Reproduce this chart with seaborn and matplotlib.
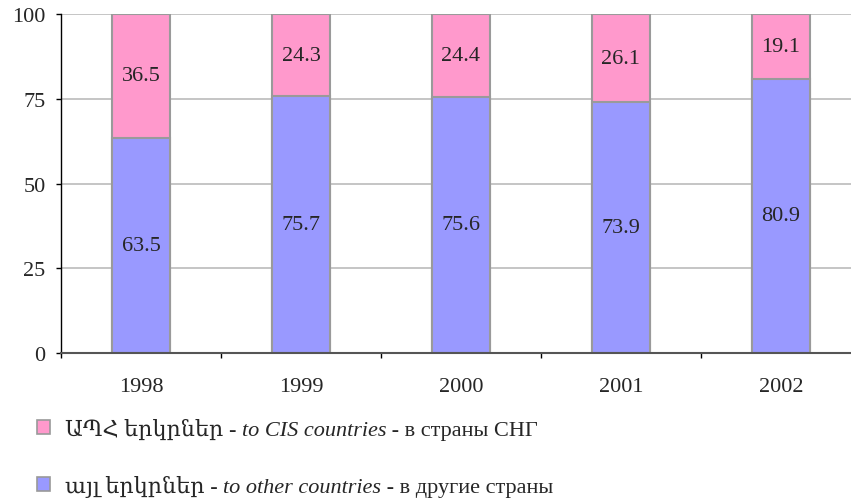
import matplotlib
matplotlib.use("Agg")
import matplotlib.pyplot as plt
import seaborn as sns
import pandas as pd
from matplotlib.patches import Patch

years = ["1998", "1999", "2000", "2001", "2002"]
cis = [36.5, 24.3, 24.4, 26.1, 19.1]
other = [63.5, 75.7, 75.6, 73.9, 80.9]
yticks = [0, 25, 50, 75, 100]

sns.set_theme(style="white")
plt.rcParams['font.family'] = ['Liberation Serif', 'DejaVu Serif']

PINK = "#FF99CC"
BLUE = "#9999FF"
EDGE = "#9a9a9a"
FS = 16

df = pd.DataFrame({"year": years, "cis": cis, "other": other})
df["total"] = df["cis"] + df["other"]

fig = plt.figure(figsize=(8.51, 5.02), dpi=100)
W, H = 851, 502
ax = fig.add_axes([61 / W, 1 - 354 / H, 800 / W, (354 - 15) / H])

for y in yticks[1:]:
    ax.axhline(y, color="#c0c0c0", lw=1.3, zorder=0)

sns.barplot(data=df, x="year", y="total", color=PINK, saturation=1, width=0.36,
            edgecolor=EDGE, linewidth=1.5, ax=ax, zorder=2)
sns.barplot(data=df, x="year", y="other", color=BLUE, saturation=1, width=0.36,
            edgecolor=EDGE, linewidth=1.5, ax=ax, zorder=3)

for i in range(len(years)):
    ax.text(i, other[i] / 2, f"{other[i]:.1f}", ha="center", va="center", fontsize=FS, zorder=5)
    ax.text(i, other[i] + cis[i] / 2, f"{cis[i]:.1f}", ha="center", va="center", fontsize=FS, zorder=5)

ax.set_xlim(-0.5, 4.5)
ax.set_ylim(0, 100)
ax.set_yticks(yticks)
ax.set_yticklabels([str(v) for v in yticks], fontsize=FS)
ax.set_xticks(range(len(years)))
ax.set_xticklabels(years, fontsize=FS)
ax.set_xticks([i - 0.5 for i in range(len(years) + 1)], minor=True)
ax.tick_params(axis="x", which="major", length=0, pad=17)
ax.tick_params(axis="x", which="minor", length=3.6, width=1, color="black", direction="out", bottom=True)
ax.tick_params(axis="y", length=3.6, width=1, color="black", direction="out", left=True, pad=7.5)
ax.set_xlabel("")
ax.set_ylabel("")
for s in ["top", "right"]:
    ax.spines[s].set_visible(False)
ax.spines["left"].set_color("black")
ax.spines["left"].set_linewidth(1)
ax.spines["bottom"].set_color("#555555")
ax.spines["bottom"].set_linewidth(1.5)
ax.spines["left"].set_zorder(6)
ax.spines["bottom"].set_zorder(6)

# legend
rows = [
    (PINK, "ԱՊՀ երկրներ - ", "to CIS countries", " - в страны СНГ", 430),
    (BLUE, "այլ երկրներ - ", "to other countries", " - в другие страны", 487),
]
fig.canvas.draw()
r = fig.canvas.get_renderer()
tr = fig.transFigure.inverted()
for color, p1, p2, p3, yc in rows:
    leg = fig.legend(handles=[Patch(facecolor=color, edgecolor=EDGE, linewidth=1.2)],
                     labels=[p1], loc="center left",
                     bbox_to_anchor=(37 / W, 1 - yc / H), frameon=False,
                     fontsize=FS, handlelength=0.6, handleheight=0.6,
                     handletextpad=0.65, borderpad=0, borderaxespad=0)
    fig.canvas.draw()
    t = leg.get_texts()[0]
    bb = t.get_window_extent(r)
    x = bb.x1
    for txt, style in [(p2, "italic"), (p3, "normal")]:
        fx, fy = tr.transform((x, bb.y0))
        tt = fig.text(fx, fy, txt, fontsize=FS, style=style, va="bottom", ha="left")
        fig.canvas.draw()
        x = tt.get_window_extent(r).x1

fig.savefig("out.png", dpi=100)
